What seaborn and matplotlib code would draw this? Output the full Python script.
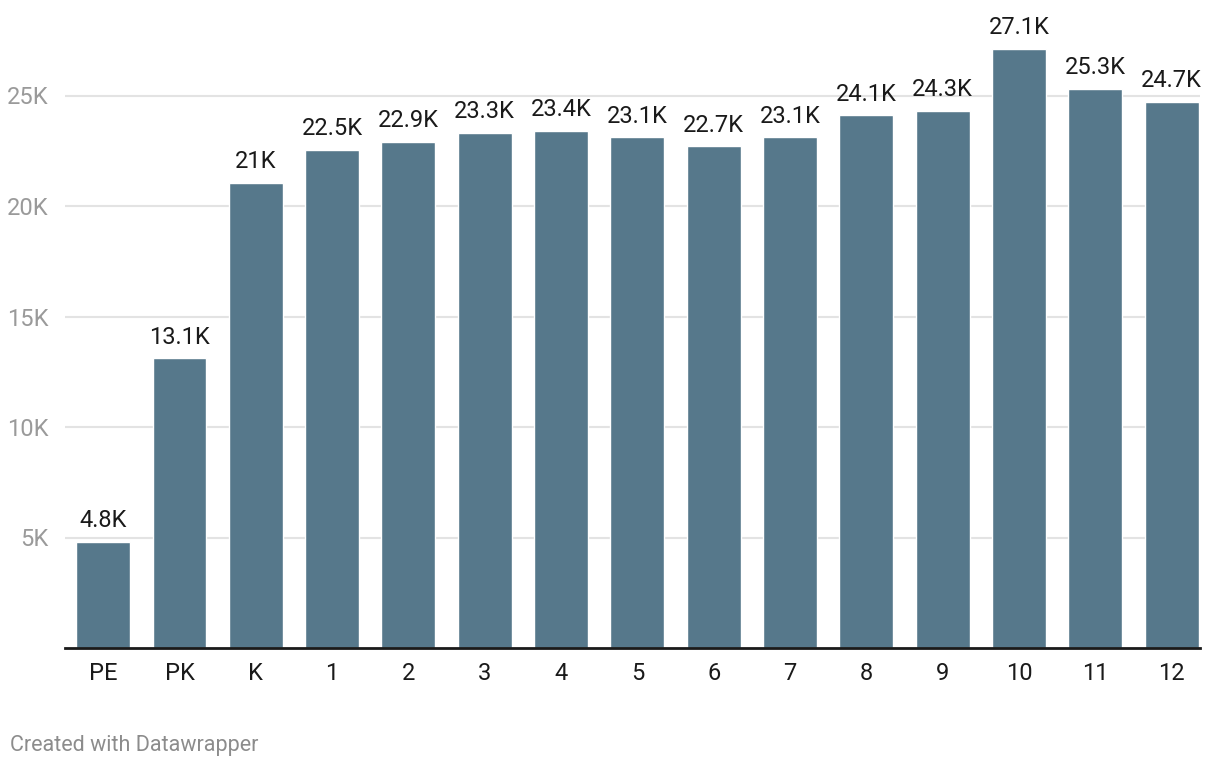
import matplotlib
matplotlib.use("Agg")
import matplotlib.pyplot as plt
import seaborn as sns
import pandas as pd

categories = ["PE", "PK", "K", "1", "2", "3", "4", "5", "6", "7", "8", "9", "10", "11", "12"]
values = [4.8, 13.1, 21.05, 22.55, 22.9, 23.3, 23.4, 23.1, 22.7, 23.1, 24.1, 24.3, 27.1, 25.3, 24.7]
labels = ["4.8K", "13.1K", "21K", "22.5K", "22.9K", "23.3K", "23.4K", "23.1K", "22.7K", "23.1K",
          "24.1K", "24.3K", "27.1K", "25.3K", "24.7K"]
yticks = [5, 10, 15, 20, 25]
ytick_labels = ["5K", "10K", "15K", "20K", "25K"]

sns.set_theme(style="white")
plt.rcParams['font.family'] = ['Roboto', 'DejaVu Sans']

df = pd.DataFrame({"cat": categories, "val": values})

W, H = 1220, 768
fig = plt.figure(figsize=(W / 100, H / 100), dpi=100)
left, right, top, bottom = 65, 1200, 40, 648
ax = fig.add_axes([left / W, 1 - bottom / H, (right - left) / W, (bottom - top) / H])

sns.barplot(data=df, x="cat", y="val", color="#56788b", saturation=1, width=0.707, ax=ax, zorder=2)

ax.set_xlim(-0.5, 14.37)
ax.set_ylim(0, (bottom - top) / 22.1)
ax.set_yticks(yticks)
ax.set_yticklabels(ytick_labels)
ax.yaxis.grid(True, color="#e3e3e3", linewidth=1.5, zorder=0)
ax.set_axisbelow(True)
for s in ["top", "right", "left"]:
    ax.spines[s].set_visible(False)
ax.spines["bottom"].set_color("#1a1a1a")
ax.spines["bottom"].set_linewidth(2)
ax.spines["bottom"].set_zorder(3)
ax.tick_params(axis="y", length=0, labelsize=17, labelcolor="#9a9a9a", pad=12)
ax.tick_params(axis="x", length=0, labelsize=17, labelcolor="#1a1a1a", pad=10)
ax.set_xlabel("")
ax.set_ylabel("")

for i, (v, lab) in enumerate(zip(values, labels)):
    ax.annotate(lab, (i, v), xytext=(0, 7), textcoords="offset points",
                ha="center", va="bottom", fontsize=17, color="#1a1a1a")

fig.text(10 / W, 1 - 745 / H, "Created with Datawrapper", fontsize=15.5, color="#8c8c8c",
         ha="left", va="center")

fig.savefig("out.png", dpi=100)
